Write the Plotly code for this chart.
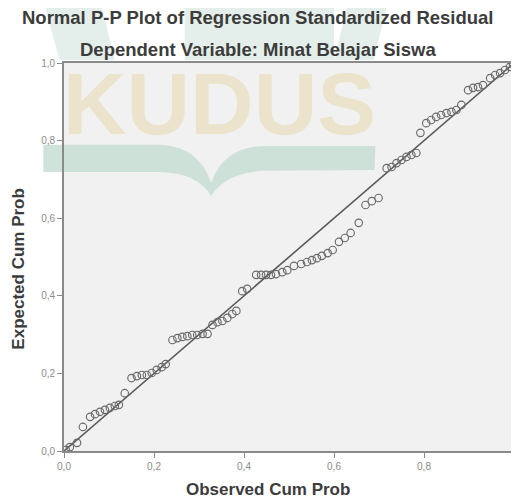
import plotly.graph_objects as go

# Observed cumulative probability (x) and expected cumulative probability (y)
observed = [0.004, 0.013, 0.029, 0.042, 0.058, 0.069, 0.080, 0.091, 0.102, 0.113,
            0.122, 0.135, 0.150, 0.162, 0.173, 0.184, 0.195, 0.206, 0.217, 0.226,
            0.241, 0.252, 0.263, 0.274, 0.285, 0.296, 0.308, 0.319, 0.330, 0.341,
            0.352, 0.363, 0.374, 0.383, 0.396, 0.407, 0.427, 0.438, 0.449, 0.460,
            0.471, 0.485, 0.496, 0.511, 0.527, 0.540, 0.551, 0.562, 0.573, 0.586,
            0.597, 0.611, 0.624, 0.637, 0.655, 0.670, 0.684, 0.699, 0.717, 0.728,
            0.739, 0.750, 0.761, 0.772, 0.783, 0.792, 0.805, 0.816, 0.827, 0.838,
            0.850, 0.861, 0.872, 0.883, 0.898, 0.909, 0.920, 0.931, 0.947, 0.958,
            0.969, 0.980, 0.991, 0.998]
expected = [0.003, 0.010, 0.021, 0.062, 0.088, 0.095, 0.101, 0.106, 0.111, 0.116,
            0.119, 0.149, 0.188, 0.193, 0.196, 0.196, 0.201, 0.209, 0.216, 0.224,
            0.286, 0.291, 0.294, 0.296, 0.299, 0.299, 0.302, 0.302, 0.325, 0.332,
            0.335, 0.343, 0.353, 0.361, 0.412, 0.418, 0.454, 0.454, 0.454, 0.454,
            0.456, 0.461, 0.466, 0.477, 0.482, 0.487, 0.492, 0.497, 0.503, 0.510,
            0.518, 0.539, 0.549, 0.562, 0.588, 0.634, 0.644, 0.652, 0.729, 0.732,
            0.742, 0.750, 0.758, 0.763, 0.768, 0.820, 0.845, 0.853, 0.861, 0.866,
            0.871, 0.874, 0.879, 0.892, 0.930, 0.936, 0.938, 0.943, 0.961, 0.969,
            0.974, 0.982, 0.990, 0.997]
ref_line = [0.0, 1.0]
tick_vals = [0.0, 0.2, 0.4, 0.6, 0.8, 1.0]
tick_text = ["0,0", "0,2", "0,4", "0,6", "0,8", "1,0"]

title = "Normal P-P Plot of Regression Standardized Residual"
subtitle = "Dependent Variable: Minat Belajar Siswa"
x_title = "Observed Cum Prob"
y_title = "Expected Cum Prob"
watermark = "KUDUS"

FONT = "Liberation Sans, Arial, sans-serif"
TXT = "#3c3c3c"

fig = go.Figure()
fig.add_trace(go.Scatter(x=ref_line, y=ref_line, mode="lines",
                         line=dict(color="#5a5a5a", width=1.6),
                         hoverinfo="skip", showlegend=False))
fig.add_trace(go.Scatter(x=observed, y=expected, mode="markers",
                         marker=dict(symbol="circle-open", size=7.5,
                                     color="#6a6a6a", line=dict(width=1.15)),
                         showlegend=False))

axis_common = dict(range=[0, 1], tickvals=tick_vals, ticktext=tick_text,
                   showgrid=False, zeroline=False, showline=True,
                   linecolor="#8a8a8a", linewidth=1.6, mirror=True,
                   ticks="outside", ticklen=5, tickcolor="#8a8a8a",
                   tickfont=dict(family=FONT, size=10, color="#8c8c8c"))
fig.update_xaxes(**axis_common)
fig.update_yaxes(**axis_common)

# pale watermark shapes (paper coordinates)
green_top = "rgba(195,218,208,0.45)"
shapes = [
    dict(type="path", xref="paper", yref="paper", layer="below",
         path="M -0.046,1.162 L 0.080,1.162 L 0.113,1.008 L -0.010,1.008 Z",
         fillcolor=green_top, line=dict(width=0)),
    dict(type="path", xref="paper", yref="paper", layer="below",
         path="M 0.268,1.162 L 0.600,1.162 L 0.600,1.008 L 0.268,1.008 Z",
         fillcolor=green_top, line=dict(width=0)),
    dict(type="path", xref="paper", yref="paper", layer="below",
         path="M 0.633,1.162 L 0.721,1.162 L 0.688,1.008 L 0.600,1.008 Z",
         fillcolor=green_top, line=dict(width=0)),
    # open-book shape under the word
    dict(type="path", xref="paper", yref="paper", layer="below",
         path=("M -0.046,0.789 L 0.212,0.789 Q 0.300,0.785 0.327,0.691 "
               "Q 0.355,0.785 0.445,0.786 L 0.692,0.786 L 0.690,0.724 "
               "L 0.445,0.722 Q 0.360,0.718 0.327,0.657 "
               "Q 0.295,0.718 0.212,0.719 L -0.046,0.719 Z"),
         fillcolor="rgba(200,222,212,0.85)", line=dict(width=0)),
]
fig.update_layout(shapes=shapes)

ann = [
    dict(text=f"<b>{watermark}</b>", x=0.346, y=0.898, xref="paper", yref="paper",
         showarrow=False, xanchor="center", yanchor="middle", height=74,
         font=dict(family=FONT, size=88, color="rgba(232,218,178,0.6)")),
    dict(text=f"<b>{title}</b>", x=0.431, y=1.116, xref="paper", yref="paper",
         showarrow=False, xanchor="center", yanchor="middle",
         font=dict(family=FONT, size=18.5, color=TXT)),
    dict(text=f"<b>{subtitle}</b>", x=0.431, y=1.036, xref="paper", yref="paper",
         showarrow=False, xanchor="center", yanchor="middle",
         font=dict(family=FONT, size=18.5, color=TXT)),
    dict(text=f"<b>{x_title}</b>", x=0.453, y=-0.099, xref="paper", yref="paper",
         showarrow=False, xanchor="center", yanchor="middle",
         font=dict(family=FONT, size=17, color=TXT)),
    dict(text=f"<b>{y_title}</b>", x=-0.1, y=0.47, xref="paper", yref="paper",
         showarrow=False, xanchor="center", yanchor="middle", textangle=-90,
         font=dict(family=FONT, size=17, color=TXT)),
]

# The page adds an 8px body margin, so the figure is sized/margined to put the
# plot area at the reference position within the 519x498 window.
fig.update_layout(
    width=511, height=490,
    margin=dict(l=56, r=3, t=55, b=47),
    paper_bgcolor="white",
    plot_bgcolor="#f1f1f1",
    annotations=ann,
    font=dict(family=FONT),
)

fig.write_html("out.html")
